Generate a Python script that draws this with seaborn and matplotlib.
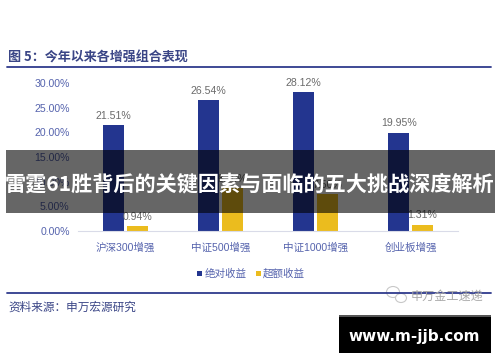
import matplotlib
matplotlib.use('Agg')
import matplotlib.pyplot as plt
import pandas as pd
import seaborn as sns
from matplotlib.patches import Ellipse, Rectangle

categories = ['沪深300增强', '中证500增强', '中证1000增强', '创业板增强']
absolute = [21.51, 26.54, 28.12, 19.95]
excess = [0.94, 8.7, 7.5, 1.31]
series_names = ['绝对收益', '超额收益']
yticks = [0, 5, 10, 15, 20, 25, 30]

W, H = 500, 362
BLUE = '#23358f'
YELLOW = '#ebbc1e'
TICK = '#5563ad'
GREY = '#6b6b6b'
NAVY = '#3a4586'

sns.set_theme(style='white')
plt.rcParams['font.family'] = ['Liberation Sans', 'Noto Sans CJK SC', 'DejaVu Sans']

df = pd.DataFrame({
    'cat': categories * 2,
    'val': absolute + excess,
    'series': [series_names[0]] * 4 + [series_names[1]] * 4,
})

fig = plt.figure(figsize=(W / 100, H / 100), dpi=100)
ax = fig.add_axes([78 / W, 1 - 231 / H, 380 / W, 148 / H])
sns.barplot(data=df, x='cat', y='val', hue='series', hue_order=series_names,
            palette=[BLUE, YELLOW], width=0.5, gap=0.12, saturation=1, linewidth=0,
            ax=ax, legend=False)
ax.set_ylim(0, 30)
ax.set_xlim(-0.5, 3.5)
ax.set_xlabel('')
ax.set_ylabel('')
ax.set_yticks(yticks)
ax.set_yticklabels([f'{v:.2f}%' for v in yticks], fontsize=7.6, color=TICK)
ax.tick_params(axis='x', length=0, pad=8, labelsize=7.6, labelcolor=TICK)
ax.tick_params(axis='y', length=0, pad=6)
sns.despine(ax=ax, left=True)
ax.spines['bottom'].set_color('#d9dbe8')
ax.spines['bottom'].set_linewidth(0.8)

for container in ax.containers:
    ax.bar_label(container, fmt='%.2f%%', padding=3, fontsize=7.6, color=GREY)


def fx(px):
    return px / W


def fy(px):
    return 1 - px / H


def add_box(x, y, w, h, color, alpha=1, zorder=1):
    # x, y is the top-left corner in picture pixels
    fig.patches.append(Rectangle((fx(x), fy(y + h)), w / W, h / H, facecolor=color, alpha=alpha,
                                 linewidth=0, transform=fig.transFigure, figure=fig, zorder=zorder))


# header and footer
fig.text(fx(8), fy(58), '图 5：今年以来各增强组合表现', fontsize=9.4, fontweight='bold',
         color=NAVY, family=['Noto Sans CJK SC'], va='center')
fig.text(fx(8), fy(307), '资料来源：申万宏源研究', fontsize=8.4, color=NAVY,
         family=['Noto Sans CJK SC'], va='center')
for y in (67, 293):
    fig.add_artist(plt.Line2D([fx(7), fx(491)], [fy(y), fy(y)], color='#2f3a8c', lw=1.3))

# legend
add_box(197, 271, 5, 5, BLUE)
fig.text(fx(205), fy(273.5), series_names[0], fontsize=7.6, color=TICK, va='center')
add_box(256, 271, 5, 5, YELLOW)
fig.text(fx(263), fy(273.5), series_names[1], fontsize=7.6, color=TICK, va='center')

# watermark
for cx, cy, ew, eh in [(393, 292, 13, 11), (401, 298, 11, 9)]:
    fig.add_artist(Ellipse((fx(cx), fy(cy)), ew / W, eh / H, facecolor='white',
                           edgecolor='#c8c8c8', linewidth=0.8, transform=fig.transFigure))
fig.text(fx(411), fy(296), '申万金工速递', fontsize=8.7, color='#a8a8a8', va='center',
         family=['Noto Sans CJK SC'])

# overlay banner
add_box(6, 150, 489, 63, 'black', alpha=0.6, zorder=5)
fig.text(fx(250), fy(184), '雷霆61胜背后的关键因素与面临的五大挑战深度解析', fontsize=15.2,
         fontweight='bold', color='white', ha='center', va='center', zorder=6,
         family=['Noto Sans CJK SC'])

# site badge
add_box(339, 315, 152, 38, 'black', zorder=5)
add_box(339, 315, 152, 2, '#555555', zorder=6)
fig.text(fx(414.5), fy(337), 'www.m-jjb.com', fontsize=11, fontweight='bold', color='white',
         ha='center', va='center', zorder=6, family=['DejaVu Sans'])

fig.savefig('out.png', dpi=100)
